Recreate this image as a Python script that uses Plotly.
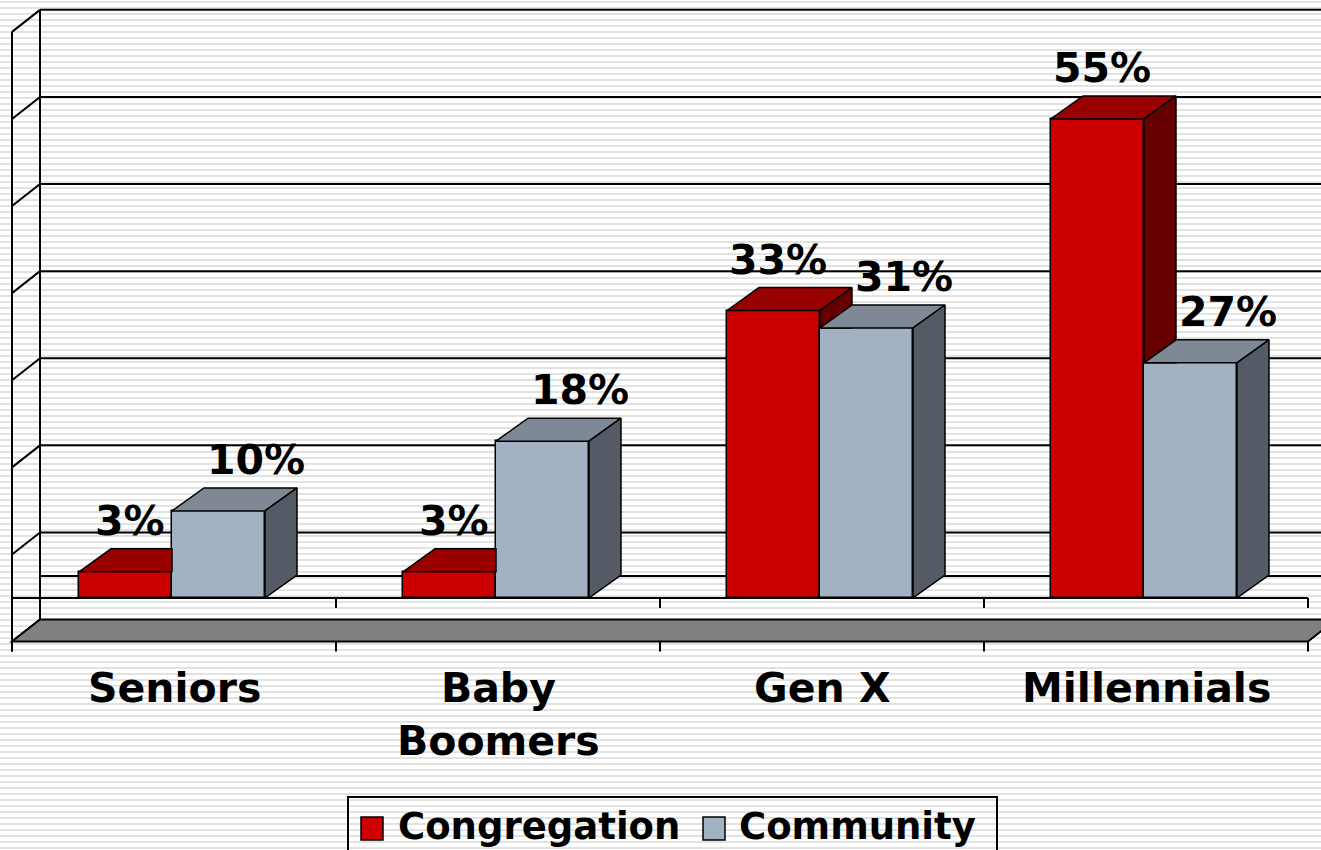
import plotly.graph_objects as go

# ---------------- data ----------------
categories = ["Seniors", "Baby<br>Boomers", "Gen X", "Millennials"]
series_names = ["Congregation", "Community"]
congregation = [3, 3, 33, 55]
community = [10, 18, 31, 27]
gridline_values = [-5, 5, 15, 25, 35, 45, 55, 65]

# ---------------- geometry / style ----------------
W, H = 1321, 850
PX_Y = 8.71          # pixels per percentage point
PX_CAT = 324.0       # pixels per category slot
X0_PX, Y0_PX = 12, 598
AX_MIN, AX_MAX = -5, 65

BAR_W = 93 / PX_CAT
CONG_OFF = 67 / PX_CAT + BAR_W / 2
COMM_OFF = CONG_OFF + BAR_W
DXB, DYB = 32 / PX_CAT, 23 / PX_Y      # bar depth
DXW, DYW = 28 / PX_CAT, 22 / PX_Y      # wall depth
TICK = 10 / PX_Y

XMIN, XMAX = -X0_PX / PX_CAT, (W - X0_PX) / PX_CAT
YMIN, YMAX = (Y0_PX - H) / PX_Y, Y0_PX / PX_Y

COLORS = {
    "Congregation": ("#CC0000", "#990000", "#660000"),
    "Community": ("#A3B2C2", "#7E8995", "#545B64"),
}
FONT = "DejaVu Sans"


def px_x(p):
    return p / W


def px_y(p):
    return 1 - p / H


fig = go.Figure()
shapes = []

# striped background
for k in range(0, H // 6 + 2):
    yy = px_y(k * 6 + 2)
    shapes.append(dict(type="line", xref="paper", yref="paper", x0=0, x1=1, y0=yy, y1=yy,
                       line=dict(color="#e2e2e2", width=2), layer="below"))

# back wall gridlines
for g in gridline_values[1:]:
    shapes.append(dict(type="line", xref="x", yref="y", x0=DXW, x1=XMAX + 1, y0=g + DYW, y1=g + DYW,
                       line=dict(color="black", width=2), layer="below"))
# back zero line
shapes.append(dict(type="line", xref="x", yref="y", x0=DXW, x1=XMAX + 1, y0=DYW, y1=DYW,
                   line=dict(color="black", width=2), layer="below"))
# left wall diagonals
for g in gridline_values:
    shapes.append(dict(type="line", xref="x", yref="y", x0=0, x1=DXW, y0=g, y1=g + DYW,
                       line=dict(color="black", width=2), layer="below"))
# left wall edges
shapes.append(dict(type="line", xref="x", yref="y", x0=DXW, x1=DXW, y0=AX_MIN + DYW, y1=AX_MAX + DYW,
                   line=dict(color="black", width=2), layer="below"))
shapes.append(dict(type="line", xref="x", yref="y", x0=0, x1=0, y0=AX_MIN - TICK, y1=AX_MAX,
                   line=dict(color="black", width=2), layer="below"))
# floor
n = len(categories)
shapes.append(dict(type="path", xref="x", yref="y",
                   path=f"M0,{AX_MIN} L{n},{AX_MIN} L{n + DXW},{AX_MIN + DYW} L{DXW},{AX_MIN + DYW} Z",
                   fillcolor="#808080", line=dict(color="black", width=2), layer="below"))
# front zero line and ticks
shapes.append(dict(type="line", xref="x", yref="y", x0=0, x1=n, y0=0, y1=0,
                   line=dict(color="black", width=2), layer="below"))
for i in range(n + 1):
    if i > 0:
        shapes.append(dict(type="line", xref="x", yref="y", x0=i, x1=i, y0=0, y1=-TICK,
                           line=dict(color="black", width=2), layer="below"))
    shapes.append(dict(type="line", xref="x", yref="y", x0=i, x1=i, y0=AX_MIN, y1=AX_MIN - TICK,
                       line=dict(color="black", width=2), layer="below"))


def face(xs, ys, color):
    fig.add_trace(go.Scatter(x=xs + [xs[0]], y=ys + [ys[0]], mode="lines", fill="toself",
                             fillcolor=color, line=dict(color="black", width=1.5),
                             hoverinfo="skip", showlegend=False))


# front faces as bars
for name, vals, off in [("Congregation", congregation, CONG_OFF), ("Community", community, COMM_OFF)]:
    fig.add_trace(go.Bar(x=[i + off for i in range(n)], y=vals, width=BAR_W, base=0, name=name,
                         marker=dict(color=COLORS[name][0], line=dict(color="black", width=1.5)),
                         showlegend=False, hoverinfo="x+y"))

# top / side faces
for i in range(n):
    cv, mv = congregation[i], community[i]
    L1, R1 = i + CONG_OFF - BAR_W / 2, i + CONG_OFF + BAR_W / 2
    R2 = R1 + BAR_W
    ctop, cside = COLORS["Congregation"][1], COLORS["Congregation"][2]
    mtop, mside = COLORS["Community"][1], COLORS["Community"][2]
    # congregation top (clipped by community front face if lower)
    if cv >= mv:
        face([L1, R1, R1 + DXB, L1 + DXB], [cv, cv, cv + DYB, cv + DYB], ctop)
        face([R1, R1, R1 + DXB, R1 + DXB], [mv, cv, cv + DYB, mv], cside)
    else:
        face([L1, R1, R1, L1 + DXB], [cv, cv, cv + DYB, cv + DYB], ctop)
    # community top and side
    face([R1, R2, R2 + DXB, R1 + DXB], [mv, mv, mv + DYB, mv + DYB], mtop)
    face([R2, R2, R2 + DXB, R2 + DXB], [0, mv, mv + DYB, DYB], mside)

annotations = []
# value labels
for vals, off, xs in [(congregation, CONG_OFF, 4), (community, COMM_OFF, 37)]:
    for i, v in enumerate(vals):
        annotations.append(dict(x=i + off, y=v, xref="x", yref="y", text=f"<b>{v}%</b>",
                                showarrow=False, xshift=xs, yshift=51, yanchor="middle",
                                font=dict(family=FONT, size=41, color="black")))
# category labels
for i, c in enumerate(categories):
    annotations.append(dict(x=i + 0.5, y=(Y0_PX - 662) / PX_Y, xref="x", yref="y", text=f"<b>{c}</b>",
                            showarrow=False, yanchor="top",
                            font=dict(family=FONT, size=41, color="black")))

# legend (drawn manually)
shapes.append(dict(type="rect", xref="paper", yref="paper", x0=px_x(348), x1=px_x(997),
                   y0=px_y(860), y1=px_y(797), line=dict(color="black", width=2)))
for name, sx, tx in [("Congregation", 361, 396), ("Community", 703, 737)]:
    shapes.append(dict(type="rect", xref="paper", yref="paper", x0=px_x(sx), x1=px_x(sx + 22),
                       y0=px_y(840), y1=px_y(817), fillcolor=COLORS[name][0],
                       line=dict(color="black", width=1.5)))
    annotations.append(dict(x=px_x(tx), y=px_y(826), xref="paper", yref="paper", text=f"<b>{name}</b>",
                            showarrow=False, xanchor="left", yanchor="middle",
                            font=dict(family=FONT, size=37, color="black")))

fig.update_layout(
    width=W, height=H, margin=dict(l=0, r=0, t=0, b=0, pad=0),
    paper_bgcolor="white", plot_bgcolor="white",
    xaxis=dict(range=[XMIN, XMAX], visible=False, fixedrange=True),
    yaxis=dict(range=[YMIN, YMAX], visible=False, fixedrange=True),
    shapes=shapes, annotations=annotations, showlegend=False, bargap=0,
)

fig.write_html("out.html", config={"displayModeBar": False},
               post_script="document.body.style.margin='0';")
